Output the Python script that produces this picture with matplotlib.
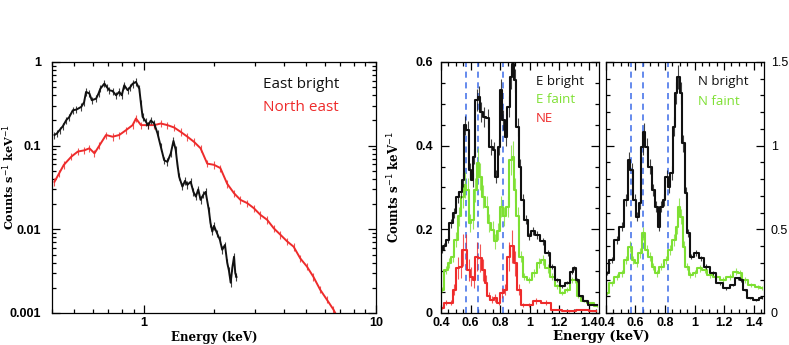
import numpy as np
import matplotlib.pyplot as plt
from matplotlib.ticker import MultipleLocator, FixedLocator, NullFormatter

# ---- left panel: broad band spectra (keV, counts/s/keV)
east_e = [0.41, 0.42, 0.431, 0.445, 0.461, 0.475, 0.492, 0.51, 0.535, 0.55, 0.561, 0.58, 0.594,
          0.62, 0.635, 0.647, 0.673, 0.69, 0.708, 0.73, 0.756, 0.78, 0.80, 0.82, 0.848, 0.87,
          0.891, 0.921, 0.952, 0.968, 0.984, 1.017, 1.04, 1.068, 1.104, 1.141, 1.179, 1.219,
          1.259, 1.302, 1.337, 1.367, 1.39, 1.414, 1.461, 1.50, 1.535, 1.586, 1.63, 1.67, 1.71,
          1.75, 1.80, 1.84, 1.90, 1.93, 1.966, 2.0, 2.06, 2.12, 2.17, 2.23, 2.28, 2.32, 2.36,
          2.40, 2.44, 2.47, 2.50]
east_v = [0.134, 0.14, 0.153, 0.17, 0.202, 0.22, 0.265, 0.27, 0.291, 0.33, 0.439, 0.42, 0.349,
          0.365, 0.42, 0.481, 0.552, 0.50, 0.459, 0.45, 0.40, 0.44, 0.40, 0.527, 0.46, 0.50,
          0.55, 0.578, 0.48, 0.318, 0.221, 0.193, 0.175, 0.20, 0.184, 0.14, 0.097, 0.067,
          0.064, 0.081, 0.114, 0.089, 0.06, 0.0426, 0.0324, 0.038, 0.034, 0.037, 0.028, 0.0246,
          0.030, 0.0225, 0.026, 0.028, 0.017, 0.012, 0.0094, 0.011, 0.0090, 0.0075, 0.0057,
          0.0065, 0.004, 0.0032, 0.0023, 0.0035, 0.0047, 0.0030, 0.0027]

ne_e = [0.41, 0.43, 0.45, 0.485, 0.517, 0.552, 0.58, 0.61, 0.64, 0.684, 0.73, 0.78, 0.834,
        0.891, 0.921, 0.968, 1.033, 1.104, 1.179, 1.259, 1.345, 1.437, 1.535, 1.64, 1.75,
        1.87, 2.0, 2.13, 2.28, 2.44, 2.60, 2.78, 2.97, 3.17, 3.39, 3.62, 3.87, 4.13, 4.41,
        4.71, 5.03, 5.37, 5.74, 6.13, 6.55, 6.77]
ne_v = [0.037, 0.047, 0.059, 0.074, 0.085, 0.088, 0.093, 0.081, 0.10, 0.134, 0.128, 0.134,
        0.153, 0.176, 0.211, 0.176, 0.176, 0.176, 0.184, 0.176, 0.165, 0.146, 0.128, 0.111,
        0.093, 0.061, 0.059, 0.054, 0.035, 0.027, 0.0225, 0.0206, 0.0179, 0.0149, 0.013,
        0.0103, 0.0086, 0.0072, 0.0062, 0.0045, 0.0036, 0.0027, 0.0019, 0.00145, 0.0011, 0.00092]

# ---- middle panel: east regions
eb_e = [0.407, 0.42, 0.445, 0.468, 0.49, 0.513, 0.535, 0.551, 0.564, 0.58, 0.596, 0.614,
        0.625, 0.641, 0.654, 0.67, 0.693, 0.715, 0.738, 0.76, 0.772, 0.794, 0.805, 0.821,
        0.839, 0.857, 0.873, 0.889, 0.902, 0.918, 0.934, 0.952, 0.974, 0.997, 1.024, 1.053,
        1.087, 1.121, 1.154, 1.188, 1.222, 1.256, 1.285, 1.301, 1.323, 1.346, 1.38, 1.413, 1.458]
eb_v = [0.151, 0.159, 0.175, 0.215, 0.238, 0.278, 0.29, 0.318, 0.449, 0.437, 0.342, 0.318,
        0.374, 0.509, 0.517, 0.481, 0.469, 0.465, 0.397, 0.39, 0.326, 0.397, 0.533, 0.461,
        0.421, 0.493, 0.564, 0.596, 0.556, 0.445, 0.35, 0.27, 0.223, 0.183, 0.195, 0.187,
        0.171, 0.143, 0.111, 0.079, 0.064, 0.072, 0.099, 0.107, 0.079, 0.040, 0.028, 0.02, 0.02]

ef_e = [0.407, 0.434, 0.456, 0.479, 0.501, 0.524, 0.546, 0.564, 0.58, 0.596, 0.614, 0.632,
        0.65, 0.663, 0.686, 0.709, 0.727, 0.749, 0.767, 0.785, 0.808, 0.828, 0.85, 0.873,
        0.889, 0.902, 0.918, 0.941, 0.963, 0.997, 1.031, 1.064, 1.092, 1.121, 1.154, 1.188,
        1.222, 1.256, 1.285, 1.308, 1.33, 1.369, 1.413, 1.458]
ef_v = [0.056, 0.103, 0.119, 0.135, 0.175, 0.231, 0.278, 0.306, 0.294, 0.215, 0.223, 0.294,
        0.358, 0.326, 0.278, 0.254, 0.215, 0.199, 0.171, 0.195, 0.254, 0.231, 0.254, 0.366,
        0.374, 0.294, 0.231, 0.135, 0.087, 0.079, 0.095, 0.119, 0.127, 0.107, 0.087, 0.064,
        0.048, 0.056, 0.079, 0.079, 0.040, 0.028, 0.024, 0.016]

nez_e = [0.407, 0.434, 0.468, 0.49, 0.513, 0.535, 0.551, 0.569, 0.587, 0.603, 0.625, 0.641,
         0.663, 0.686, 0.704, 0.722, 0.745, 0.767, 0.79, 0.812, 0.835, 0.857, 0.88, 0.902,
         0.925, 0.952, 0.997, 1.042, 1.109, 1.177, 1.267, 1.357, 1.447]
nez_v = [0.012, 0.024, 0.024, 0.056, 0.107, 0.111, 0.151, 0.151, 0.103, 0.087, 0.079, 0.135,
         0.131, 0.103, 0.072, 0.040, 0.032, 0.036, 0.024, 0.048, 0.056, 0.135, 0.159, 0.119,
         0.056, 0.020, 0.020, 0.028, 0.024, 0.008, 0.004, 0.008, 0.004]

# ---- right panel: north regions
nb_e = [0.404, 0.438, 0.472, 0.506, 0.535, 0.558, 0.573, 0.596, 0.612, 0.63, 0.648, 0.659,
        0.675, 0.697, 0.72, 0.742, 0.76, 0.776, 0.792, 0.81, 0.826, 0.844, 0.86, 0.877,
        0.891, 0.907, 0.923, 0.941, 0.956, 0.979, 1.013, 1.046, 1.08, 1.125, 1.17, 1.215,
        1.26, 1.294, 1.317, 1.339, 1.373, 1.418, 1.459]
nb_v = [0.237, 0.317, 0.436, 0.516, 0.675, 0.914, 0.855, 0.675, 0.576, 0.655, 0.994, 1.084,
        0.994, 0.875, 0.735, 0.635, 0.516, 0.635, 0.675, 0.815, 0.755, 0.835, 1.114, 1.313,
        1.412, 1.313, 1.014, 0.715, 0.476, 0.337, 0.357, 0.327, 0.277, 0.237, 0.177, 0.147,
        0.167, 0.207, 0.197, 0.137, 0.088, 0.078, 0.088]

nf_e = [0.404, 0.438, 0.472, 0.506, 0.535, 0.562, 0.585, 0.607, 0.63, 0.652, 0.675, 0.697,
        0.72, 0.747, 0.776, 0.805, 0.832, 0.86, 0.882, 0.896, 0.911, 0.927, 0.95, 0.972,
        1.001, 1.035, 1.069, 1.103, 1.148, 1.193, 1.238, 1.283, 1.305, 1.339, 1.384, 1.429, 1.459]
nf_v = [0.118, 0.177, 0.217, 0.237, 0.317, 0.396, 0.317, 0.297, 0.357, 0.476, 0.376, 0.337,
        0.277, 0.237, 0.277, 0.317, 0.376, 0.436, 0.516, 0.635, 0.576, 0.396, 0.277, 0.227,
        0.237, 0.267, 0.257, 0.227, 0.217, 0.197, 0.217, 0.247, 0.237, 0.197, 0.167, 0.157, 0.147]

line_e = [0.568, 0.652, 0.819]   # dashed line energies

BLACK = '#111111'
RED = '#ee2b2b'
GREEN = '#7ee033'
BLUE = '#3a6be8'

plt.rcParams['font.family'] = 'Liberation Sans'


def spec(ax, e, v, c, rel, step=True):
    e = np.array(e)
    v = np.array(v)
    if step:
        ax.step(e, v, where='mid', color=c, lw=1.5)
    else:
        ax.plot(e, v, color=c, lw=1.4)
    ax.errorbar(e, v, yerr=v * rel, fmt='none', ecolor=c, elinewidth=0.8, capsize=0, alpha=0.8)


def tickstyle(ax):
    ax.tick_params(which='both', direction='in', top=True, right=True, labelsize=9, width=0.9, pad=3)
    ax.tick_params(which='major', length=6)
    ax.tick_params(which='minor', length=3)
    for lab in ax.get_xticklabels() + ax.get_yticklabels():
        lab.set_fontweight('bold')
    for s in ax.spines.values():
        s.set_linewidth(0.9)


fig = plt.figure(figsize=(7.89, 3.45), dpi=100)

# left panel
ax1 = fig.add_axes([0.0659, 0.0928, 0.4107, 0.7275])
spec(ax1, ne_e, ne_v, RED, 0.1, step=False)
spec(ax1, east_e, east_v, BLACK, 0.1, step=False)
ax1.set_xscale('log')
ax1.set_yscale('log')
ax1.set_xlim(0.4, 10)
ax1.set_ylim(0.001, 1)
ax1.set_xticks([1, 10])
ax1.set_xticklabels(['1', '10'])
ax1.set_yticks([0.001, 0.01, 0.1, 1])
ax1.set_yticklabels(['0.001', '0.01', '0.1', '1'])
ax1.xaxis.set_minor_formatter(NullFormatter())
tickstyle(ax1)
ax1.tick_params(axis='y', pad=8)
ax1.set_xlabel('Energy (keV)', family='DejaVu Serif', fontweight='bold', fontsize=8.5, labelpad=1)
ax1.set_ylabel('Counts s$^{-1}$ keV$^{-1}$', family='DejaVu Serif', fontweight='bold', fontsize=8)
ax1.yaxis.set_label_coords(-0.108, 0.54)
ax1.text(0.65, 0.895, 'East bright', transform=ax1.transAxes, color=BLACK, fontsize=11, family='Open Sans')
ax1.text(0.65, 0.805, 'North east', transform=ax1.transAxes, color=RED, fontsize=11, family='Open Sans')

# middle panel
ax2 = fig.add_axes([0.559, 0.0928, 0.2003, 0.7275])
for le in line_e:
    ax2.axvline(le, color=BLUE, lw=1.1, ls=(0, (4, 3)))
spec(ax2, nez_e, nez_v, RED, 0.25)
spec(ax2, ef_e, ef_v, GREEN, 0.1)
spec(ax2, eb_e, eb_v, BLACK, 0.05)
ax2.set_xlim(0.4, 1.47)
ax2.set_ylim(0, 0.6)
ax2.xaxis.set_major_locator(FixedLocator([0.4, 0.6, 0.8, 1.0, 1.2, 1.4]))
ax2.set_xticklabels(['0.4', '0.6', '0.8', '1', '1.2', '1.4'])
ax2.xaxis.set_minor_locator(MultipleLocator(0.05))
ax2.set_yticks([0, 0.2, 0.4, 0.6])
ax2.set_yticklabels(['0', '0.2', '0.4', '0.6'])
ax2.yaxis.set_minor_locator(MultipleLocator(0.05))
tickstyle(ax2)
ax2.tick_params(axis='y', pad=6)
ax2.set_ylabel('Counts s$^{-1}$ keV$^{-1}$', family='DejaVu Serif', fontweight='bold', fontsize=8.5)
ax2.yaxis.set_label_coords(-0.245, 0.5)
ax2.text(0.6, 0.91, 'E bright', transform=ax2.transAxes, color=BLACK, fontsize=9.5, family='Open Sans')
ax2.text(0.6, 0.835, 'E faint', transform=ax2.transAxes, color=GREEN, fontsize=9.5, family='Open Sans')
ax2.text(0.6, 0.762, 'NE', transform=ax2.transAxes, color=RED, fontsize=9.5, family='Open Sans')

# right panel
ax3 = fig.add_axes([0.768, 0.0928, 0.2003, 0.7275])
for le in line_e:
    ax3.axvline(le, color=BLUE, lw=1.1, ls=(0, (4, 3)))
spec(ax3, nf_e, nf_v, GREEN, 0.08)
spec(ax3, nb_e, nb_v, BLACK, 0.05)
ax3.set_xlim(0.4, 1.47)
ax3.set_ylim(0, 1.5)
ax3.xaxis.set_major_locator(FixedLocator([0.4, 0.6, 0.8, 1.0, 1.2, 1.4]))
ax3.set_xticklabels(['0.4', '0.6', '0.8', '1', '1.2', '1.4'])
ax3.xaxis.set_minor_locator(MultipleLocator(0.05))
ax3.set_yticks([0, 0.5, 1, 1.5])
ax3.set_yticklabels(['0', '0.5', '1', '1.5'])
ax3.yaxis.set_minor_locator(MultipleLocator(0.1))
tickstyle(ax3)
ax3.tick_params(axis='y', labelleft=False, labelright=True, labelsize=9, pad=5)
for lab in ax3.get_yticklabels():
    lab.set_fontweight('normal')
ax3.text(0.58, 0.908, 'N bright', transform=ax3.transAxes, color=BLACK, fontsize=9.5, family='Open Sans')
ax3.text(0.58, 0.83, 'N faint', transform=ax3.transAxes, color=GREEN, fontsize=9.5, family='Open Sans')

fig.text(0.762, 0.015, 'Energy (keV)', ha='center', family='DejaVu Serif', fontweight='bold', fontsize=9.5)

fig.savefig('out.png', dpi=100)
